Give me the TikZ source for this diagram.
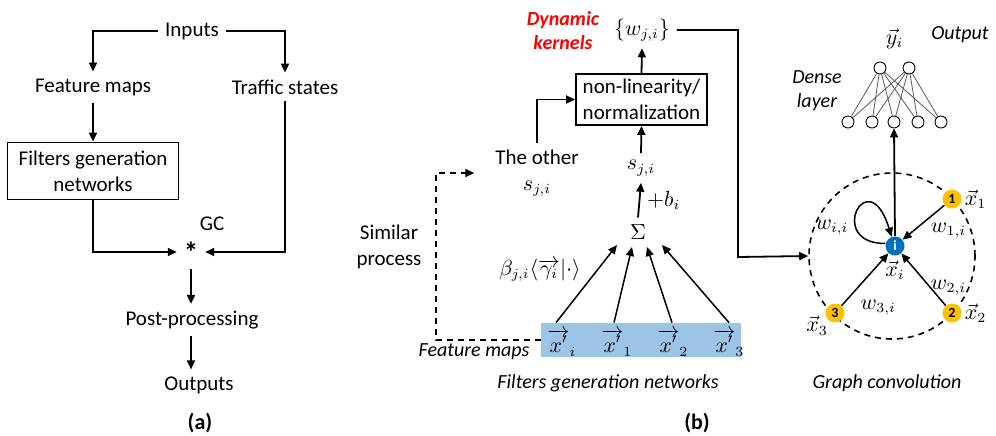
\documentclass[tikz,border=0pt]{standalone}
\usepackage{fontspec}
\setmainfont{Carlito}
\usetikzlibrary{arrows.meta,calc,positioning}
\definecolor{fmblue}{RGB}{157,195,230}
\definecolor{gcorange}{RGB}{255,192,0}
\definecolor{gcblue}{RGB}{0,112,192}
\tikzset{
	arr/.style={-{Triangle[length=4.5pt,width=4pt]},line width=0.9pt},
	dashline/.style={line width=0.8pt,dash pattern=on 3pt off 2.5pt},
	dnode/.style={shape=circle,draw,fill=white,minimum size=6pt,inner sep=0pt,line width=0.45pt}
}
\newcommand{\gcnode}[5]{\node[shape=circle,fill=#1,inner sep=0pt,minimum size=9.5pt,font=\bfseries\scriptsize,text=#2] (#3) at #4 {#5};}
\newcommand{\myedge}[4]{\draw[arr,line width=0.75pt] (#1) -- node[#2] {#3} (#4);}

\begin{document}
\begin{tikzpicture}[x=0.5pt,y=-0.5pt,font=\fontsize{10.5}{13}\selectfont]
    \useasboundingbox (0,0) rectangle (996,435);

    % (a)
    \node (in) at (192,31) {Inputs};
    \node (fm) at (93,87) {Feature maps};
    \node (ts) at (285,87) {Traffic states};
    \node[draw,line width=0.9pt,align=center,minimum width=85.5pt,minimum height=28.5pt,inner sep=2pt] (fgn) at (93,171) {Filters generation\\networks};
    \node[font=\Large\bfseries] (gc) at (191,252) {*};
    \node (gclab) at (212,224) {GC};
    \node (pp) at (192,320) {Post-processing};
    \node (out) at (199,385) {Outputs};
    \node[font=\fontsize{11}{13}\bfseries] (la) at (200,423) {(a)};

    \draw[arr] (in.west) -| (fm.north);
    \draw[arr] (in.east) -| (ts.north);
    \draw[arr] (fm.south) -- (fgn.north);
    \draw[arr] (fgn.south) |- (gc.west);
    \draw[arr] (ts.south) |- (gc.east);
    \draw[arr] (gc.south) -- (gc.south |- pp.north);
    \draw[arr] (pp.south -| gc) -- (gc |- out.north);

    % (b) filters generation networks
    \node[align=center,text=red,font=\bfseries\itshape] (dk) at (563,31) {Dynamic\\kernels};
    \node (w) at (642,30) {$\{w_{j,i}\}$};
    \node[draw,line width=0.9pt,align=center,minimum width=65.5pt,minimum height=25.5pt,inner sep=2pt] (nl) at (641.5,99.5) {non-linearity/\\normalization};
    \node[align=center] (other) at (537,173) {The other\\$s_{j,i}$};
    \node (s) at (641,168) {$s_{j,i}$};
    \node (sig) at (638,232) {$\Sigma$};
    \node (beta) at (540,270) {$\beta_{j,i}\langle\overrightarrow{\gamma_i}|\cdot\rangle$};
    \node[fill=fmblue,minimum width=100pt,minimum height=17pt,inner sep=0pt] (fmbar) at (641,340) {};
    \node[inner sep=1pt] (xi) at (562,343) {$\overrightarrow{x'}_{i}$};
    \node[inner sep=1pt] (x1) at (617,343) {$\overrightarrow{x'}_{1}$};
    \node[inner sep=1pt] (x2) at (673,343) {$\overrightarrow{x'}_{2}$};
    \node[inner sep=1pt] (x3) at (729,343) {$\overrightarrow{x'}_{3}$};
    \node[font=\itshape] (fmlab) at (474,352) {Feature maps};
    \node[align=center] (sim) at (389,247) {Similar\\process};
    \node[font=\itshape] (fgnlab) at (608,383) {Filters generation networks};
    \node[font=\fontsize{11}{13}\bfseries] (lb) at (697,423) {(b)};
    \coordinate (bend) at (436,173);

    \draw[arr] (sig.north) -- node[right] {$+b_i$} (s.south);
    \draw[arr] (s.north) -- (nl.south);
    \draw[arr] (nl.north) -- (w.south);
    \draw[arr] (other.north) |- (nl.west);
    \draw[arr,line width=0.75pt] (fmbar.north -| {$(xi.north)+(-6,0)$}) -- ($(sig)+(-21,13)$);
    \draw[arr,line width=0.75pt] (fmbar.north -| {$(x1.north)+(-3,0)$}) -- ($(sig)+(-6,15)$);
    \draw[arr,line width=0.75pt] (fmbar.north -| {$(x2.north)+(-1,0)$}) -- ($(sig)+(9,15)$);
    \draw[arr,line width=0.75pt] (fmbar.north -| x3.north) -- ($(sig)+(24,13)$);
    \draw[dashline,arr,shorten >=7pt] (fmbar.west) -| (bend) -- (other.west);

    % (b) graph convolution
    \node[draw,dashline,circle,minimum size=83pt] (gcc) at (892,256) {};
    \coordinate (turn) at (738,257);
    \draw[arr] (w.east) -| (turn) -- (gcc.west);

    \gcnode{gcblue}{white}{ci}{(895,246)}{i}
    \gcnode{gcorange}{black}{c1}{(952,199)}{1}
    \gcnode{gcorange}{black}{c2}{(952,313)}{2}
    \gcnode{gcorange}{black}{c3}{(835,313)}{3}
    \node[below=-1pt of ci] (xilab) {$\vec{x}_i$};
    \node[right=-2pt of c1] (x1lab) {$\vec{x}_1$};
    \node[right=-2pt of c2] (x2lab) {$\vec{x}_2$};
    \node[below left=-5.5pt and -3.5pt of c3] (x3lab) {$\vec{x}_3$};

    \myedge{c1}{right,yshift=-4pt}{$w_{1,i}$}{ci}
    \myedge{c2}{right,yshift=-4pt}{$w_{2,i}$}{ci}
    \draw[arr,line width=0.75pt] (c3) -- node[pos=0.25,below right] {$w_{3,i}$} (ci);
    \draw[arr,line width=0.75pt] (ci.165) .. controls (825,244) and (868,160) .. node[pos=0.3,left] {$w_{i,i}$} (ci.110);

    % dense layer
    \node (t1) [dnode] at (880,68) {};
    \node (t2) [dnode] at (909,68) {};
    \foreach \i/\x in {1/848,2/872,3/894,4/918,5/941}
        \node (b\i) [dnode] at (\x,122) {};
    \foreach \t in {1,2}
        \foreach \b in {1,...,5}
            \draw[gray!70!black,line width=0.4pt] (t\t) -- (b\b);
    \draw[arr] (ci.north) -- (b3.south);
    \node[above=6pt of $(t1)!0.5!(t2)$] (yi) {$\vec{y}_i$};
    \node[font=\itshape] (outlab) at (960,35) {Output};
    \node[align=center,font=\itshape] (dense) at (817,91) {Dense\\layer};
    \node[font=\itshape] (gclabel) at (887,383) {Graph convolution};
\end{tikzpicture}
\end{document}
